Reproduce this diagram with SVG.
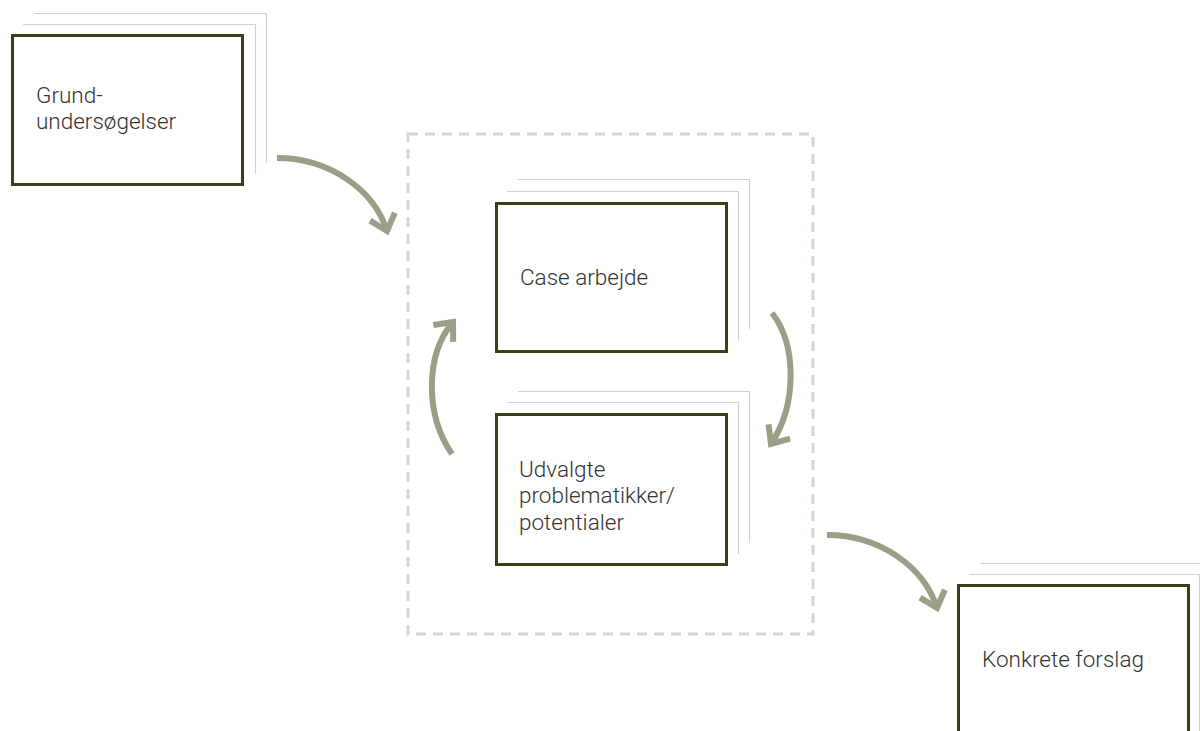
<svg xmlns="http://www.w3.org/2000/svg" width="1200" height="731" viewBox="0 0 1200 731">
<style>
.sh{fill:none;stroke:#d2d2c6;stroke-width:1.2}
.main{fill:#fff;stroke:#364117;stroke-width:3}
.t{font-family:Roboto,"Liberation Sans",sans-serif;font-weight:300;font-size:22.5px;fill:#333}
.arr{fill:none;stroke:#9a9f88;stroke-width:6}
</style>
<defs>
<marker id="ah" markerUnits="userSpaceOnUse" orient="auto" markerWidth="40" markerHeight="40" refX="0" refY="0" viewBox="-20 -20 40 40" overflow="visible">
<path d="M-15,-13 L0,0 L-15,13" fill="none" stroke="#9a9f88" stroke-width="6"/>
</marker>
</defs>
<rect width="1200" height="731" fill="#fff"/>
<g id="group-box">
<rect x="408" y="134" width="405" height="500" fill="none" stroke="#d6d6cc" stroke-width="3" stroke-dasharray="10 7"/>
</g>
<g id="node-grund">
<path class="sh" d="M34,13.5 H266.5 V163"/>
<path class="sh" d="M23,24.5 H255.5 V174"/>
<rect class="main" x="12.5" y="35.5" width="230" height="149"/>
<text class="t" x="36" y="103">Grund-</text>
<text class="t" x="36" y="129">undersøgelser</text>
</g>
<g id="node-case">
<path class="sh" d="M518,179.5 H749.5 V329"/>
<path class="sh" d="M507,191.5 H738.5 V341"/>
<rect class="main" x="496.5" y="203.5" width="230" height="148"/>
<text class="t" x="520" y="285">Case arbejde</text>
</g>
<g id="node-udvalgte">
<path class="sh" d="M518,391.5 H749.5 V543"/>
<path class="sh" d="M507,402.5 H738.5 V554"/>
<rect class="main" x="496.5" y="414.5" width="230" height="150"/>
<text class="t" x="519" y="477">Udvalgte</text>
<text class="t" x="519" y="503">problematikker/</text>
<text class="t" x="519" y="530">potentialer</text>
</g>
<g id="node-konkrete">
<path class="sh" d="M980,563.5 H1210"/>
<path class="sh" d="M969,574.5 H1199.5 V740"/>
<rect class="main" x="958.5" y="585.5" width="230" height="180"/>
<text class="t" x="982" y="667">Konkrete forslag</text>
</g>
<g id="connectors">
<path class="arr" d="M277,158 C330,158 374,190 387,231" marker-end="url(#ah)"/>
<path class="arr" d="M772,313 C797,345 797,405 771,444" marker-end="url(#ah)"/>
<path class="arr" d="M452,454 C425,415 425,355 453,322" marker-end="url(#ah)"/>
<path class="arr" d="M827,535 C880,535 924,567 937,608" marker-end="url(#ah)"/>
</g>
</svg>
